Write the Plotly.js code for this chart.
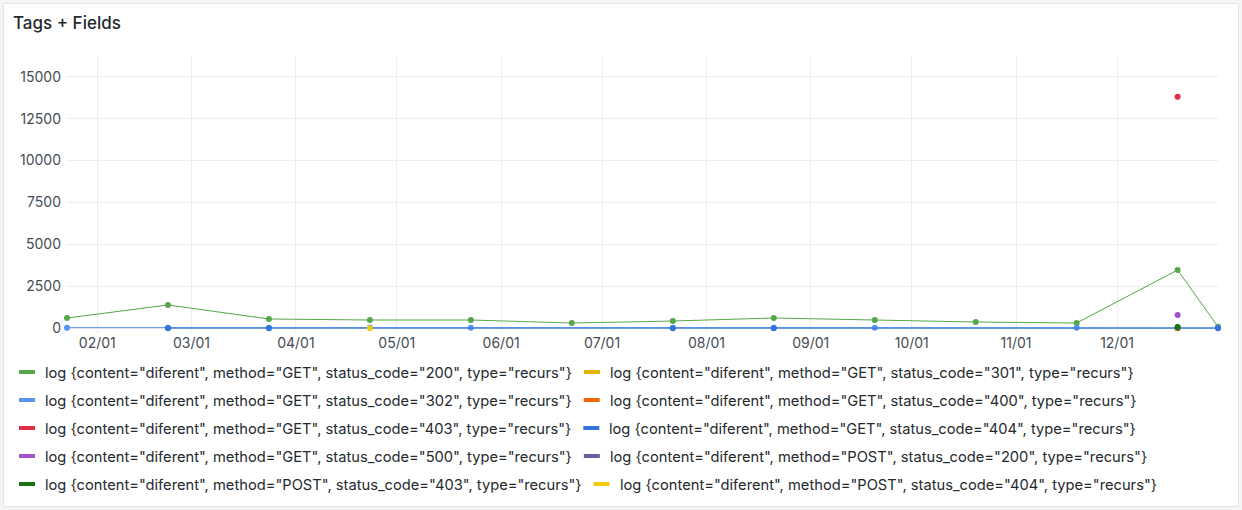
<!DOCTYPE html>
<html>
<head>
<meta charset="utf-8">
<script src="https://cdn.plot.ly/plotly-3.0.1.min.js"></script>
<style>
  html, body { margin: 0; padding: 0; background: #f4f5f5; width: 1242px; height: 510px; overflow: hidden; }
  #panel { position: absolute; left: 3px; top: 3px; width: 1234px; height: 502px; border: 1px solid #e3e4e6; border-radius: 2px; background: #ffffff; }
  #chart { width: 1234px; height: 502px; }
</style>
</head>
<body>
<div id="panel"><div id="chart"></div></div>
<script>
// ---- data ----
const times = ['2023-01-23','2023-02-22','2023-03-24','2023-04-23','2023-05-23','2023-06-22','2023-07-22','2023-08-21','2023-09-20','2023-10-20','2023-11-19','2023-12-19','2023-12-31'];

const labels = [
  'log {content="diferent", method="GET", status_code="200", type="recurs"}',
  'log {content="diferent", method="GET", status_code="301", type="recurs"}',
  'log {content="diferent", method="GET", status_code="302", type="recurs"}',
  'log {content="diferent", method="GET", status_code="400", type="recurs"}',
  'log {content="diferent", method="GET", status_code="403", type="recurs"}',
  'log {content="diferent", method="GET", status_code="404", type="recurs"}',
  'log {content="diferent", method="GET", status_code="500", type="recurs"}',
  'log {content="diferent", method="POST", status_code="200", type="recurs"}',
  'log {content="diferent", method="POST", status_code="403", type="recurs"}',
  'log {content="diferent", method="POST", status_code="404", type="recurs"}'
];

const get200  = [614, 1390, 555, 495, 495, 315, 435, 615, 495, 375, 315, 3475, 95];
const get301  = [null, null, null, null, null, null, null, null, null, null, null, 0, null];
const get302  = [40, 35, 30, 45, 40, null, 30, 30, 40, null, 35, 30, 30];
const get400  = [null, null, null, null, null, null, null, null, null, null, null, 5, null];
const get403  = [null, null, null, null, null, null, null, null, null, null, null, 13810, null];
const get404  = [null, 10, 8, null, null, null, 6, 6, null, null, null, null, 8];
const get500  = [null, null, null, null, null, null, null, null, null, null, null, 795, null];
const post200 = [null, null, null, null, null, null, null, null, null, null, null, 30, null];
const post403 = [null, null, null, null, null, null, null, null, null, null, null, 85, null];
const post404 = [null, null, null, 0, null, null, null, null, null, null, null, null, null];

const yTickVals = [0, 2500, 5000, 7500, 10000, 12500, 15000];

// ---- styling ----
const seriesValues = [get200, get301, get302, get400, get403, get404, get500, post200, post403, post404];
const colors = ['#56A64B','#E0B400','#5794F2','#FA6400','#E02F44','#3274D9','#A352CC','#705DA0','#19730E','#F2CC0C'];

const W = 1234, H = 502, OX = 4, OY = 4;
const M = {l: 63, r: 20, t: 53, b: 173};
const pw = W - M.l - M.r, ph = H - M.t - M.b;
function px(ax) { return (ax - OX - M.l) / pw; }
function py(ay) { return 1 - (ay - OY - M.t) / ph; }

const traces = seriesValues.map((vals, i) => ({
  type: 'scatter',
  mode: 'lines+markers',
  x: times,
  y: vals,
  name: labels[i],
  connectgaps: true,
  cliponaxis: false,
  line: {color: colors[i], width: 1},
  marker: {color: colors[i], size: 6},
  showlegend: false,
  hoverinfo: 'skip'
}));

// legend drawn as swatches + text, flowing in rows of two
const legendSize = 14.7;
const canvas = document.createElement('canvas');
const ctx = canvas.getContext('2d');
ctx.font = legendSize + 'px Inter';
const shapes = [];
const annotations = [];
const rowY0 = 372, rowStep = 28, swW = 16, swH = 4, textOff = 26, afterText = 12;
for (let r = 0; r < 5; r++) {
  const y = rowY0 + rowStep * r;
  let x = 19;
  for (let c = 0; c < 2; c++) {
    const i = r * 2 + c;
    shapes.push({
      type: 'rect', xref: 'paper', yref: 'paper', layer: 'above',
      x0: px(x), x1: px(x + swW), y0: py(y - swH / 2), y1: py(y + swH / 2),
      fillcolor: colors[i], line: {width: 0}
    });
    annotations.push({
      xref: 'paper', yref: 'paper', x: px(x + textOff - 2), y: py(y + 1),
      xanchor: 'left', yanchor: 'middle', showarrow: false,
      text: labels[i],
      font: {family: 'Inter', size: legendSize, color: '#24292e'}
    });
    const tw = ctx.measureText(labels[i]).width;
    x = x + textOff + tw + afterText;
  }
}

const layout = {
  width: W, height: H,
  margin: M,
  paper_bgcolor: '#ffffff',
  plot_bgcolor: '#ffffff',
  showlegend: false,
  hovermode: false,
  title: {
    text: 'Tags + Fields',
    xref: 'container', yref: 'container',
    x: (13 - OX) / W, xanchor: 'left',
    y: 1 - (23 - OY) / H, yanchor: 'middle',
    font: {family: 'Inter', size: 17, weight: 500, color: '#24292e'}
  },
  xaxis: {
    type: 'date',
    range: [times[0], '2023-12-31'],
    tick0: '2023-02-01',
    dtick: 'M1',
    tickformat: '%m/%d',
    showgrid: true,
    gridcolor: '#ededed',
    gridwidth: 1,
    zeroline: false,
    showline: false,
    ticks: '',
    tickfont: {family: 'Inter', size: 14, color: '#464c54'},
    fixedrange: true
  },
  yaxis: {
    range: [-280, 16175],
    tickvals: yTickVals,
    ticktext: yTickVals.map(v => String(v)),
    showgrid: true,
    gridcolor: '#ededed',
    gridwidth: 1,
    zeroline: false,
    showline: false,
    ticks: '',
    ticklabelstandoff: 5,
    tickfont: {family: 'Inter', size: 14, color: '#464c54'},
    fixedrange: true
  },
  shapes: shapes,
  annotations: annotations
};

Plotly.newPlot('chart', traces, layout, {staticPlot: true, displayModeBar: false});
</script>
</body>
</html>
